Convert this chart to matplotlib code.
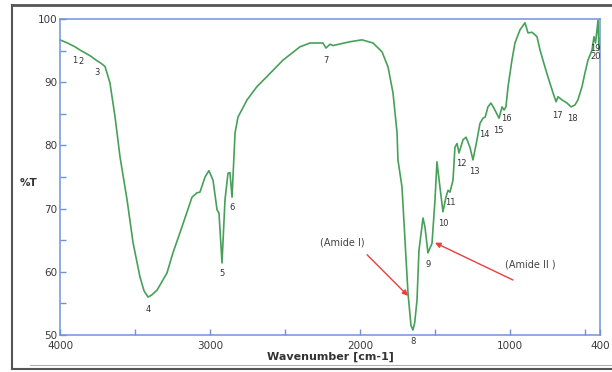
import matplotlib
matplotlib.use("Agg")
import matplotlib.pyplot as plt
from matplotlib.lines import Line2D

# ---- data ----
wavenumber = [4000, 3950, 3900, 3860, 3800, 3760, 3733, 3700, 3667, 3633, 3600,
              3553, 3513, 3467, 3440, 3413, 3390, 3353, 3287, 3247, 3187, 3120,
              3087, 3067, 3033, 3007, 2980, 2953, 2940, 2920, 2900, 2880, 2867,
              2853, 2833, 2813, 2753, 2687, 2620, 2513, 2400, 2333, 2247, 2227,
              2200, 2180, 2067, 1987, 1913, 1853, 1813, 1780, 1753, 1747, 1720,
              1700, 1680, 1660, 1647, 1635, 1620, 1607, 1580, 1567, 1547, 1520,
              1500, 1487, 1467, 1447, 1427, 1413, 1400, 1380, 1367, 1353, 1340,
              1313, 1293, 1267, 1247, 1220, 1200, 1180, 1165, 1147, 1127, 1107,
              1090, 1073, 1053, 1040, 1027, 1013, 987, 967, 933, 900, 880, 853,
              820, 800, 767, 740, 713, 693, 680, 653, 620, 593, 567, 547, 520,
              500, 480, 453, 440, 430, 413, 407, 400]
transmittance = [96.7, 96.2, 95.6, 95.0, 94.2, 93.5, 93.1, 92.5, 89.9, 84.5, 78.2,
                 71.4, 64.6, 59.2, 57.0, 56.0, 56.3, 57.1, 59.8, 63.0, 67.1, 71.8,
                 72.5, 72.6, 75.0, 76.0, 74.5, 69.8, 69.3, 61.4, 71.4, 75.6, 75.7,
                 71.8, 82.0, 84.5, 87.2, 89.3, 90.9, 93.5, 95.6, 96.2, 96.2, 95.4,
                 96.0, 95.8, 96.4, 96.7, 96.2, 94.8, 92.4, 88.3, 82.0, 77.7, 73.4,
                 65.0, 56.6, 51.5, 50.8, 52.0, 55.5, 63.4, 68.5, 67.1, 63.0, 64.5,
                 71.4, 77.4, 73.4, 69.5, 71.8, 72.9, 72.6, 74.5, 79.7, 80.3, 78.8,
                 80.9, 81.3, 79.7, 77.7, 80.9, 83.5, 84.3, 84.5, 86.1, 86.7, 85.9,
                 85.1, 84.3, 86.1, 85.6, 86.1, 89.3, 93.5, 96.2, 98.3, 99.4, 97.8,
                 97.9, 97.2, 95.1, 92.4, 90.3, 88.3, 86.9, 87.7, 87.2, 86.7, 86.1,
                 86.4, 87.2, 89.3, 91.5, 93.5, 95.1, 97.2, 96.2, 99.8, 95.1, 97.0]

peak_labels = [str(i) for i in range(1, 21)]
peak_label_wn = [3900, 3860, 3753, 3413, 2920, 2853, 2227, 1647, 1547, 1447,
                 1400, 1327, 1240, 1173, 1080, 1027, 687, 587, 433, 427]
peak_label_t = [93.5, 93.2, 91.5, 54.1, 59.7, 70.1, 93.4, 48.9, 61.1, 67.6,
                71.0, 77.1, 75.8, 81.8, 82.4, 84.2, 84.8, 84.3, 95.4, 94.1]

x_ticks = [4000, 3000, 2000, 1000, 400]
x_minor = [3500, 2500, 1500, 500]
y_ticks = [50, 60, 70, 80, 90, 100]
y_minor = [55, 65, 75, 85, 95]

fig = plt.figure(figsize=(6.12, 3.72), dpi=100)
ax = fig.add_axes([60/612, 1-335/372, 540/612, 316/372])

ax.plot(wavenumber, transmittance, color="#46a05a", lw=1.2, solid_joinstyle="round")

ax.set_xlim(4000, 400)
ax.set_ylim(50, 100)
ax.set_xticks(x_ticks)
ax.set_xticks(x_minor, minor=True)
ax.set_yticks(y_ticks)
ax.set_yticks(y_minor, minor=True)

spine_c = "#6f93d8"
for s in ax.spines.values():
    s.set_color(spine_c)
    s.set_linewidth(1.1)
ax.tick_params(axis="both", which="both", direction="in", color=spine_c,
               labelsize=7.5, labelcolor="#3a3a3a", width=1.0, length=4)
ax.tick_params(axis="x", pad=4)
ax.tick_params(axis="y", pad=2)

for lab, wx, ty in zip(peak_labels, peak_label_wn, peak_label_t):
    ax.text(wx, ty, lab, fontsize=6, color="#333333", ha="center", va="center",
            clip_on=False)

ax.text(-0.058, 0.48, "%T", transform=ax.transAxes, fontsize=7.5,
        fontweight="bold", color="#333333", ha="center", va="center")
ax.text(0.5, -0.07, "Wavenumber [cm-1]", transform=ax.transAxes, fontsize=8,
        fontweight="bold", color="#333333", ha="center", va="center")

# Amide annotations
ax.annotate("", xy=(1680, 56.2), xytext=(1953, 62.7),
            arrowprops=dict(arrowstyle="-|>", color="#e8403a", lw=1.0,
                            mutation_scale=8, shrinkA=0, shrinkB=0))
ax.text(2120, 64.6, "(Amide I)", fontsize=7, color="#444444", ha="center",
        va="center")
ax.annotate("", xy=(1500, 64.6), xytext=(980, 58.7),
            arrowprops=dict(arrowstyle="-|>", color="#e8403a", lw=1.0,
                            mutation_scale=8, shrinkA=0, shrinkB=0))
ax.text(867, 61.1, "(Amide II )", fontsize=7, color="#444444", ha="center",
        va="center")

# outer frame
fc = "#555555"
fig.add_artist(Line2D([12/612, 12/612], [1-5/372, 1-369/372], color=fc, lw=1.5,
                      transform=fig.transFigure))
fig.add_artist(Line2D([12/612, 1.0], [1-5/372, 1-5/372], color=fc, lw=2.0,
                      transform=fig.transFigure))
fig.add_artist(Line2D([12/612, 1.0], [1-369/372, 1-369/372], color=fc, lw=1.5,
                      transform=fig.transFigure))
fig.add_artist(Line2D([30/612, 1.0], [1-365/372, 1-365/372], color="#b0b0b0",
                      lw=0.8, transform=fig.transFigure))

fig.savefig("out.png", dpi=100)
